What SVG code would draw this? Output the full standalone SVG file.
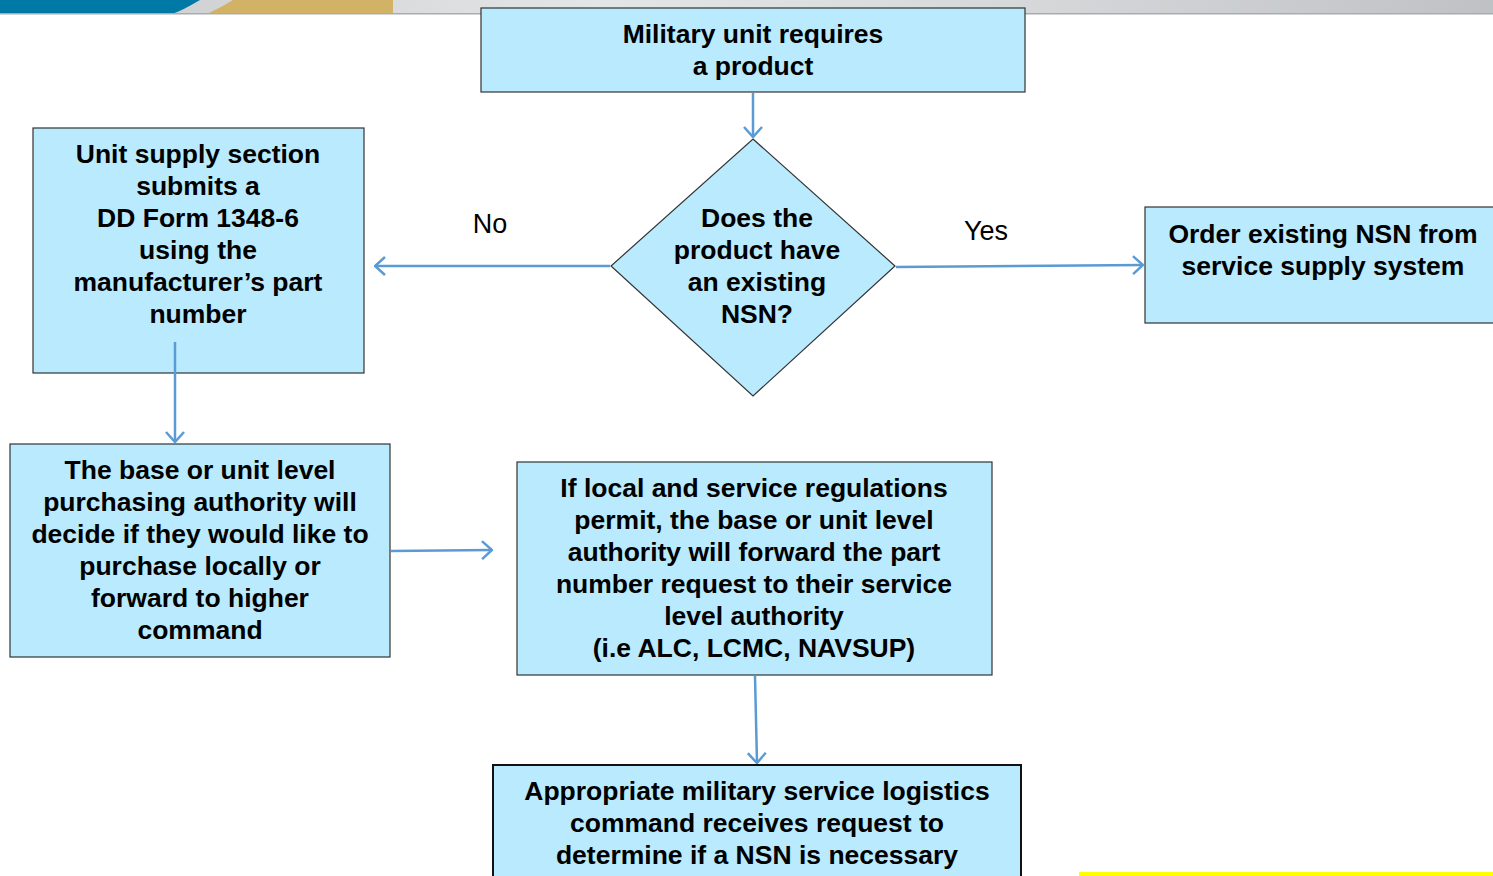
<svg xmlns="http://www.w3.org/2000/svg" width="1493" height="876" viewBox="0 0 1493 876">
<style>
.box{fill:#b9eafd;stroke:#333;stroke-width:1.2}
.t{font-family:"Liberation Sans",Arial,sans-serif;font-weight:bold;font-size:26.5px;fill:#000;text-anchor:middle;dominant-baseline:central}
.lbl{font-family:"Liberation Sans",Arial,sans-serif;font-size:27px;fill:#000;text-anchor:middle;dominant-baseline:central}
.c{stroke:#5b9bd5;stroke-width:2.5;fill:none;marker-end:url(#ah)}
</style>
<defs>
<marker id="ah" viewBox="0 0 12 20" refX="11" refY="10" markerWidth="12" markerHeight="20" markerUnits="userSpaceOnUse" orient="auto">
<path d="M1,1 L11,10 L1,19" fill="none" stroke="#5b9bd5" stroke-width="2.5"/>
</marker>
<linearGradient id="gray" x1="0" x2="1" y1="0" y2="0">
<stop offset="0" stop-color="#c8c9cb"/>
<stop offset="0.4" stop-color="#e4e5e6"/>
<stop offset="0.7" stop-color="#d5d7d9"/>
<stop offset="1" stop-color="#bfc2c5"/>
</linearGradient>
</defs>
<g id="banner">
<rect x="0" y="0" width="1493" height="14" fill="url(#gray)"/>
<path d="M0,0 L200,0 C190,6 180,11 172,14 L0,14 Z" fill="#0079a6"/>
<path d="M233,0 L393,0 L393,14 L207,14 C215,10 225,5 233,0 Z" fill="#d2b264"/>
<rect x="0" y="13" width="1493" height="1.5" fill="#a9abad"/>
</g>
<g id="n1">
<rect class="box" x="481" y="8" width="544" height="84"/>
<text class="t" x="753" y="34">Military unit requires</text>
<text class="t" x="753" y="66">a product</text>
</g>
<g id="n2">
<polygon class="box" points="753,139 895,266 753,396 611,266"/>
<text class="t" x="757" y="218">Does the</text>
<text class="t" x="757" y="250">product have</text>
<text class="t" x="757" y="282">an existing</text>
<text class="t" x="757" y="314">NSN?</text>
</g>
<g id="n3">
<rect class="box" x="33" y="128" width="331" height="245"/>
<text class="t" x="198" y="154">Unit supply section</text>
<text class="t" x="198" y="186">submits a</text>
<text class="t" x="198" y="218">DD Form 1348-6</text>
<text class="t" x="198" y="250">using the</text>
<text class="t" x="198" y="282">manufacturer’s part</text>
<text class="t" x="198" y="314">number</text>
</g>
<g id="n4">
<rect class="box" x="1145" y="207" width="360" height="116"/>
<text class="t" x="1323" y="234">Order existing NSN from</text>
<text class="t" x="1323" y="266">service supply system</text>
</g>
<g id="n5">
<rect class="box" x="10" y="444" width="380" height="213"/>
<text class="t" x="200" y="470">The base or unit level</text>
<text class="t" x="200" y="502">purchasing authority will</text>
<text class="t" x="200" y="534">decide if they would like to</text>
<text class="t" x="200" y="566">purchase locally or</text>
<text class="t" x="200" y="598">forward to higher</text>
<text class="t" x="200" y="630">command</text>
</g>
<g id="n6">
<rect class="box" x="517" y="462" width="475" height="213"/>
<text class="t" x="754" y="488">If local and service regulations</text>
<text class="t" x="754" y="520">permit, the base or unit level</text>
<text class="t" x="754" y="552">authority will forward the part</text>
<text class="t" x="754" y="584">number request to their service</text>
<text class="t" x="754" y="616">level authority</text>
<text class="t" x="754" y="648">(i.e ALC, LCMC, NAVSUP)</text>
</g>
<g id="n7">
<rect x="493" y="765" width="528" height="120" fill="#b9eafd" stroke="#111" stroke-width="2"/>
<text class="t" x="757" y="791">Appropriate military service logistics</text>
<text class="t" x="757" y="823">command receives request to</text>
<text class="t" x="757" y="855">determine if a NSN is necessary</text>
</g>
<g id="connectors">
<line class="c" x1="753" y1="93" x2="753" y2="137"/>
<line class="c" x1="610" y1="266" x2="375" y2="266"/>
<line class="c" x1="896" y1="267" x2="1143" y2="265"/>
<line class="c" x1="175" y1="342" x2="175" y2="442"/>
<line class="c" x1="391" y1="551" x2="492" y2="550"/>
<line class="c" x1="755" y1="676" x2="757" y2="763"/>
<text class="lbl" x="490" y="224">No</text>
<text class="lbl" x="986" y="231">Yes</text>
</g>
<rect x="1079" y="872" width="414" height="4" fill="#ffff00"/>
</svg>
